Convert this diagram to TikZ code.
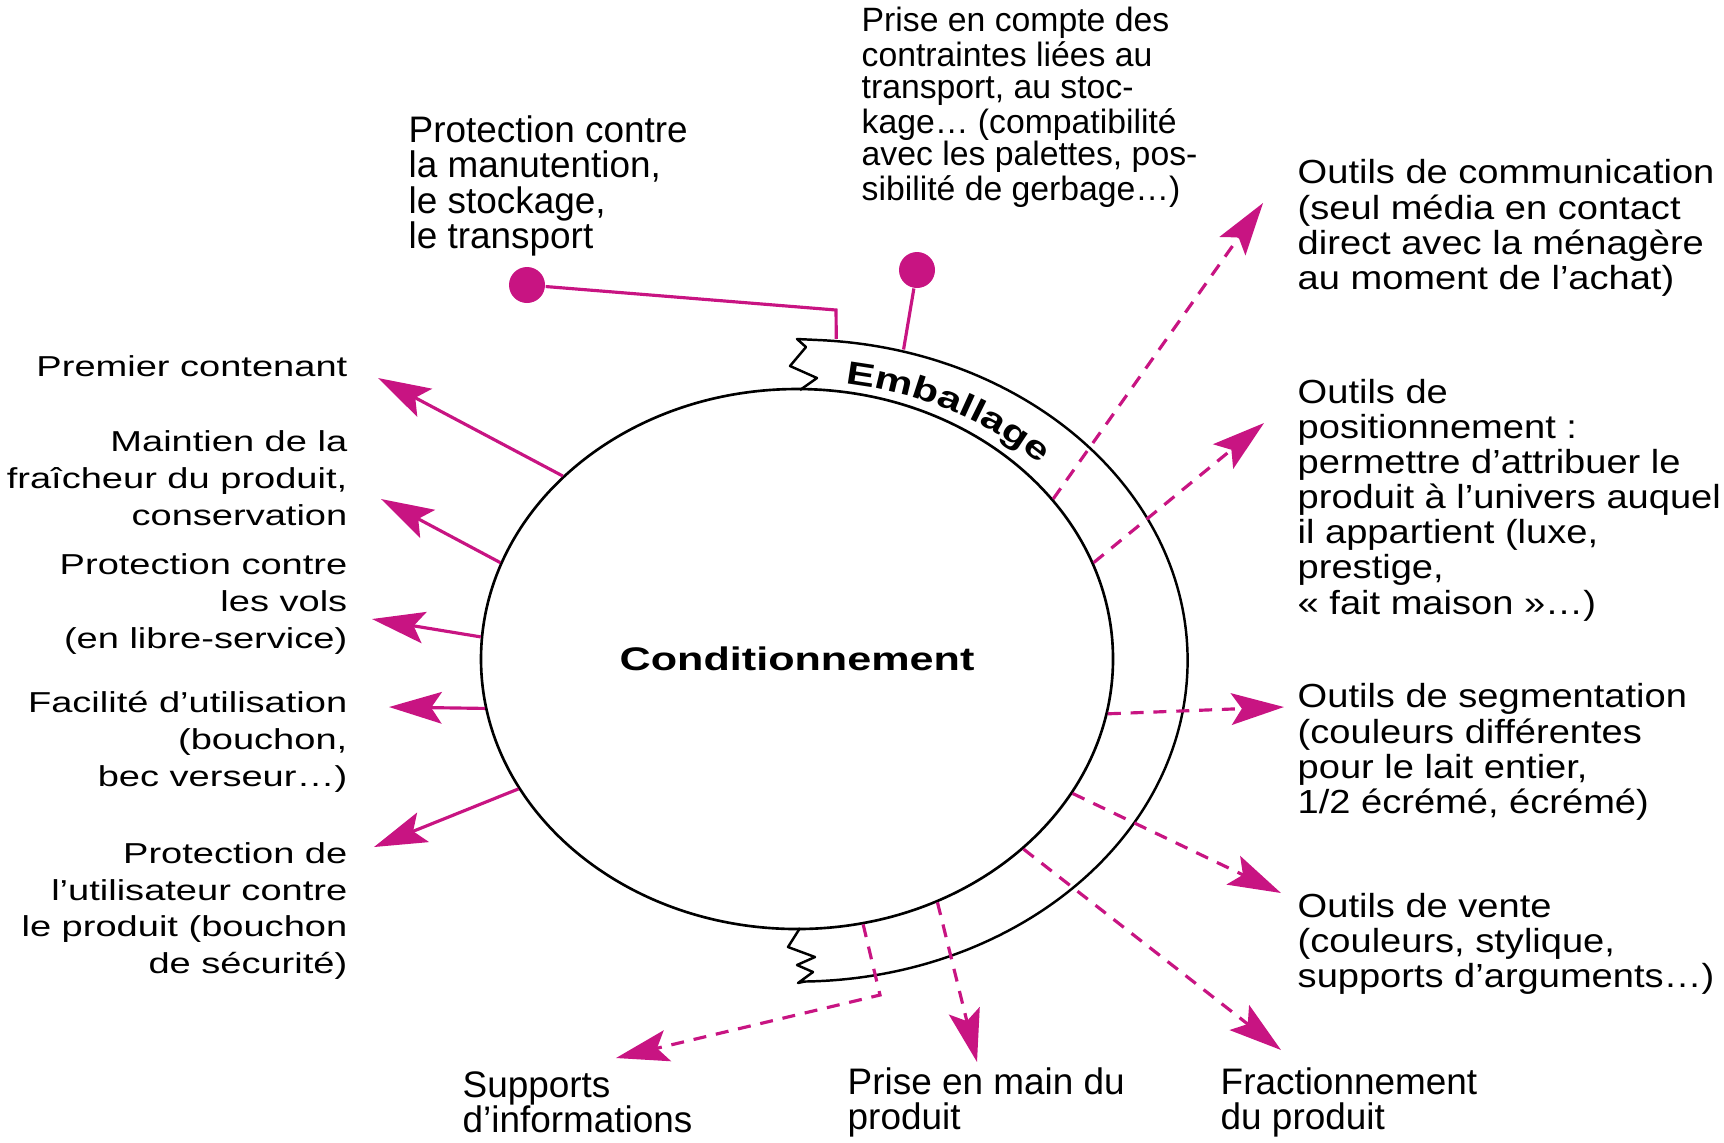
\documentclass[tikz,border=0pt]{standalone}
\usepackage{fontspec}
\setmainfont{Liberation Sans}
\newfontfamily\largefont[FakeStretch=1.32]{Liberation Sans}
\newfontfamily\narrowfont[FakeStretch=1.14]{Liberation Sans}
\usetikzlibrary{shapes.geometric, arrows.meta, decorations.text}
\definecolor{packpink}{RGB}{200,20,130}

\begin{document}
\begin{tikzpicture}[x=1cm, y=1cm,
  leftlabel/.style={anchor=east, align=right, inner sep=0,
    font=\largefont\fontsize{8.2}{10.5}\selectfont},
  rightlabel/.style={anchor=west, align=left, inner sep=0,
    font=\narrowfont\fontsize{9.5}{10}\selectfont},
  toplabel/.style={anchor=west, align=left, inner sep=0,
    font=\fontsize{10.5}{10}\selectfont},
  usage/.style={draw=packpink, line width=0.9pt,
    -{Stealth[length=15pt, width=9pt, inset=3pt]}},
  media/.style={usage, dash pattern=on 3.7pt off 2.8pt},
  holder/.style={draw=packpink, line width=0.9pt},
  pin/.style={circle, fill=packpink, minimum size=0.36cm, inner sep=0},
  band/.style={draw=black, line width=0.7pt, line join=round}]

\useasboundingbox (0,0) rectangle (17.24,-11.42);

% CONDITIONNEMENT
  \node[ellipse, draw=black, line width=0.75pt,
    minimum width = 6.32cm,
    minimum height = 5.40cm,
    inner sep=0,
    font=\largefont\bfseries\fontsize{9.3}{11}\selectfont] (cond) at (7.97, -6.59) {Conditionnement};
  \node[ellipse,
    minimum width = 7.80cm,
    minimum height = 6.42cm,
    inner sep=0] (emb) at (7.97, -6.59) {};

% EMBALLAGE
  \draw[band] (8.00,-3.90) -- (8.17,-3.78) -- (7.90,-3.66) -- (8.06,-3.47) -- (7.97,-3.39) -- (8.18,-3.40)
    arc[start angle=87, end angle=-89, x radius=3.9, y radius=3.21]
    -- (7.98,-9.83) -- (8.13,-9.72) -- (7.97,-9.65) -- (8.15,-9.57) -- (7.88,-9.47) -- (8.00,-9.28);
  \path[decorate, decoration={text along path, text align=center,
    text={|\largefont\bfseries\fontsize{9.2}{11}\selectfont|Emballage}}]
    (7.97,-6.59) ++(84:3.40 and 2.78) arc[start angle=84, end angle=42, x radius=3.40, y radius=2.78];

% LEFT
  \node[leftlabel] (contenant) at (3.48, -3.66) {Premier contenant};
  \node[leftlabel] (fraicheur) at (3.48, -4.78) {Maintien de la\\fraîcheur du produit,\\conservation};
  \node[leftlabel] (vols) at (3.48, -6.04) {Protection contre\\les vols\\(en libre-service)};
  \node[leftlabel] (utilisation) at (3.48, -7.42) {Facilité d’utilisation\\(bouchon,\\bec verseur…)};
  \node[leftlabel] (securite) at (3.48, -9.11) {Protection de\\l’utilisateur contre\\le produit (bouchon\\de sécurité)};

  \coordinate (tcontenant) at (3.78, -3.78);
  \coordinate (tfraicheur) at (3.81, -4.99);
  \coordinate (tvols) at (3.72, -6.19);
  \coordinate (tutilisation) at (3.89, -7.07);
  \coordinate (tsecurite) at (3.74, -8.47);

  \draw[usage] (cond.142) -- (tcontenant);
  \draw[usage] (cond.162) -- (tfraicheur);
  \draw[usage] (cond.176) -- (tvols);
  \draw[usage] (cond.189) -- (tutilisation);
  \draw[usage] (cond.205) -- (tsecurite);

% TOP
  \node[toplabel] (manutention) at (4.08, -1.86) {Protection contre\\la manutention,\\le stockage,\\le transport};
  \node[toplabel, font=\fontsize{9.6}{9}\selectfont] (contraintes) at (8.61, -1.07) {Prise en compte des\\contraintes liées au\\transport, au stoc-\\kage… (compatibilité\\avec les palettes, pos-\\sibilité de gerbage…)};

  \node[pin] (dot1) at (5.27, -2.85) {};
  \node[pin] (dot2) at (9.17, -2.70) {};
  \coordinate (bend1) at (8.36, -3.10);
  \draw[holder] (dot1) -- (bend1) -- (emb.83);
  \draw[holder] (dot2) -- (emb.71);

% RIGHT
  \node[rightlabel] (communication) at (12.97, -2.28) {Outils de communication\\(seul média en contact\\direct avec la ménagère\\au moment de l’achat)};
  \node[rightlabel] (positionnement) at (12.97, -5.00) {Outils de\\positionnement :\\permettre d’attribuer le\\produit à l’univers auquel\\il appartient (luxe,\\prestige,\\«~fait maison~»…)};
  \node[rightlabel] (segmentation) at (12.97, -7.52) {Outils de segmentation\\(couleurs différentes\\pour le lait entier,\\1/2 écrémé, écrémé)};
  \node[rightlabel] (vente) at (12.97, -9.44) {Outils de vente\\(couleurs, stylique,\\supports d’arguments…)};

  \coordinate (tcommunication) at (12.63, -2.03);
  \coordinate (tpositionnement) at (12.64, -4.23);
  \coordinate (tsegmentation) at (12.84, -7.07);
  \coordinate (tvente) at (12.81, -8.93);
  \coordinate (tfraction) at (12.81, -10.50);

  \draw[media] (cond.32) -- (tcommunication);
  \draw[media] (cond.18) -- (tpositionnement);
  \draw[media] (cond.350) -- (tsegmentation);
  \draw[media] (cond.334) -- (tvente);
  \draw[media] (cond.320) -- (tfraction);

% BOTTOM
  \node[toplabel] (fraction) at (12.20, -11.02) {Fractionnement\\du produit};
  \node[toplabel] (priseenmain) at (8.47, -11.02) {Prise en main du\\produit};
  \node[toplabel] (supports) at (4.62, -11.02) {Supports\\d’informations};

  \coordinate (tpriseenmain) at (9.77, -10.62);
  \coordinate (bend2) at (8.80, -9.95);
  \coordinate (tsupports) at (6.16, -10.58);

  \draw[media] (cond.300) -- (tpriseenmain);
  \draw[media] (cond.284) -- (bend2) -- (tsupports);
\end{tikzpicture}
\end{document}
